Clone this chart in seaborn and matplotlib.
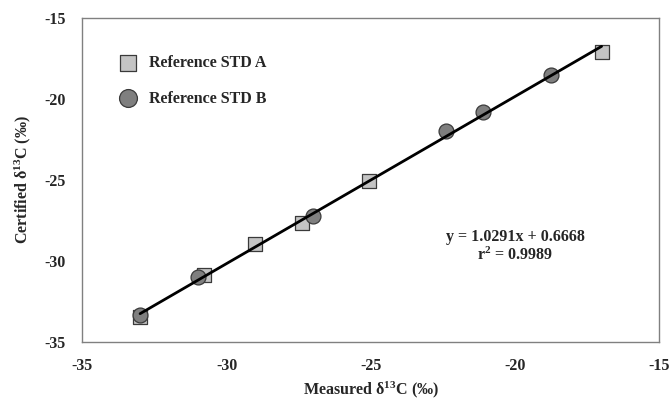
import numpy as np
import pandas as pd
import matplotlib
matplotlib.use('Agg')
import matplotlib.pyplot as plt
import seaborn as sns

# Data
std_a_measured = [-33.0, -30.8, -29.0, -27.4, -25.05, -17.0]
std_a_certified = [-33.5, -30.9, -29.0, -27.7, -25.1, -17.1]
std_b_measured = [-33.0, -31.0, -27.0, -22.4, -21.1, -18.75]
std_b_certified = [-33.35, -31.0, -27.25, -22.0, -20.8, -18.55]
series_names = ['Reference STD A', 'Reference STD B']
x_ticks = [-35, -30, -25, -20, -15]
y_ticks = [-35, -30, -25, -20, -15]
fit_text = 'y = 1.0291x + 0.6668\nr$^2$ = 0.9989'

df_a = pd.DataFrame({'measured': std_a_measured, 'certified': std_a_certified})
df_b = pd.DataFrame({'measured': std_b_measured, 'certified': std_b_certified})
df = pd.concat([df_a, df_b], ignore_index=True)

sns.set_theme(style='white')
plt.rcParams['font.family'] = ['Liberation Serif', 'DejaVu Serif']
plt.rcParams['font.weight'] = 'bold'
plt.rcParams['axes.unicode_minus'] = False
plt.rcParams['mathtext.fontset'] = 'custom'
plt.rcParams['mathtext.rm'] = 'Liberation Serif:bold'
plt.rcParams['mathtext.it'] = 'Liberation Serif:bold'
plt.rcParams['mathtext.bf'] = 'Liberation Serif:bold'

fs = 11.5
fig, ax = plt.subplots(figsize=(6.7, 4.01), dpi=100)
fig.subplots_adjust(left=0.123, right=0.984, top=0.956, bottom=0.148)

sns.scatterplot(data=df_a, x='measured', y='certified', marker='s', color='#c4c4c4',
                edgecolor='#3a3a3a', linewidth=0.9, s=90, label=series_names[0], ax=ax, zorder=2)
sns.scatterplot(data=df_b, x='measured', y='certified', marker='o', color='#7f7f7f',
                edgecolor='#3a3a3a', linewidth=0.9, s=115, label=series_names[1], ax=ax, zorder=2)

sns.regplot(data=df, x='measured', y='certified', scatter=False, ci=None, truncate=True,
            line_kws={'color': 'black', 'linewidth': 2.0, 'zorder': 3}, ax=ax)

ax.set_xlim(-35, -15)
ax.set_ylim(-35, -15)
ax.set_xticks(x_ticks)
ax.set_yticks(y_ticks)
ax.tick_params(direction='out', length=5, width=1, color='#808080', labelsize=fs, pad=7)
for lab in ax.get_xticklabels() + ax.get_yticklabels():
    lab.set_fontweight('bold')
for sp in ax.spines.values():
    sp.set_color('#808080')
    sp.set_linewidth(1.0)

ax.set_xlabel('Measured δ$^{13}$C (‰)', fontsize=fs, fontweight='bold', labelpad=4)
ax.set_ylabel('Certified δ$^{13}$C (‰)', fontsize=fs, fontweight='bold', labelpad=8)

ax.legend(loc='upper left', bbox_to_anchor=(0.026, 0.93), frameon=False, fontsize=fs,
          labelspacing=1.25, handletextpad=0.35, borderpad=0.4, markerscale=1.2)

ax.text(-20.0, -28.05, fit_text, ha='center', va='top', fontsize=fs, fontweight='bold',
        linespacing=1.15)

fig.savefig('out.png', dpi=100)
